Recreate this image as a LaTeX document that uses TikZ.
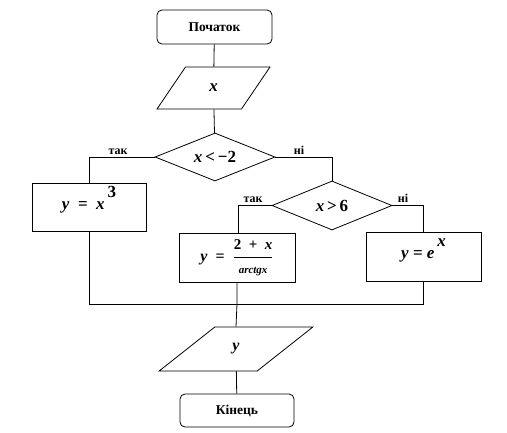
\documentclass[tikz,border=0pt]{standalone}
\usepackage{fontspec}
\setmainfont{Liberation Serif}
\usetikzlibrary{shapes.geometric}
\tikzset{
  base/.style={draw=black, line width=0.8pt, inner sep=0pt, font=\bfseries},
  term/.style={base, rectangle, rounded corners=5pt},
  procbox/.style={base, rectangle},
  io/.style={base, trapezium, trapezium stretches=true},
  decide/.style={base, diamond, aspect=2.5},
  conn/.style={draw=black, line width=0.8pt},
  lbl/.style={font=\bfseries\fontsize{12}{12}\selectfont, inner sep=0pt, anchor=south}
}
\newcommand{\upsup}[1]{\raisebox{1.5ex}[0pt][0pt]{#1}}
\begin{document}
\begin{tikzpicture}[x=1pt,y=-1pt]
\useasboundingbox (0,0) rectangle (507,432);
\node[term, minimum width=115pt, minimum height=34pt, font=\bfseries\fontsize{13.5}{13.5}\selectfont] (start) at (214.5,27) {Початок};
\node[io, trapezium left angle=61, trapezium right angle=119, minimum width=113pt, minimum height=42pt, font=\bfseries\fontsize{17}{17}\selectfont] (in) at (213.5,88) {\textit{x}};
\node[decide, minimum width=120pt, minimum height=48pt, font=\bfseries\fontsize{17}{17}\selectfont] (d1) at (215,157) {\textit{x}\,<\,−2};
\node[procbox, minimum width=114pt, minimum height=48pt, font=\bfseries\fontsize{17}{17}\selectfont] (b1) at (89,207) {\textit{y}\enspace=\enspace\textit{x}\,\upsup{3}};
\node[decide, minimum width=120pt, minimum height=49pt, font=\bfseries\fontsize{17}{17}\selectfont] (d2) at (332,205.5) {\textit{x}\,>\,6};
\node[procbox, minimum width=116pt, minimum height=49pt, font=\bfseries\fontsize{16}{16}\selectfont] (b2) at (237,257.5) {\textit{y}\enspace=\enspace$\displaystyle\frac{\mbox{\bfseries\fontsize{15}{15}\selectfont 2\enspace+\enspace\textit{x}}}{\mbox{\bfseries\fontsize{11}{11}\selectfont\textit{arctgx}}}$};
\node[procbox, minimum width=115pt, minimum height=49pt, font=\bfseries\fontsize{17}{17}\selectfont] (b3) at (423.5,256.5) {\textit{y} = \textit{e}\,\upsup{\textit{x}}};
\node[io, trapezium left angle=49, trapezium right angle=131, minimum width=154pt, minimum height=44pt, font=\bfseries\fontsize{16}{16}\selectfont] (out) at (236,349) {\textit{y}};
\node[term, minimum width=114pt, minimum height=33pt, font=\bfseries\fontsize{13.5}{13.5}\selectfont] (end) at (237,410.5) {Кінець};

\coordinate (c1) at (89,157);
\coordinate (c2) at (332,157);
\coordinate (c3) at (238,205.5);
\coordinate (c4) at (423.5,205.5);
\coordinate (m1) at (89,304);
\coordinate (m2) at (237,304);
\coordinate (m3) at (423.5,304);

\draw[conn] (start) -- (in);
\draw[conn] (in) -- (d1);
\draw[conn] (d1.west) -- (c1) -- (c1 |- b1.north);
\draw[conn] (d1.east) -- (c2) -- (d2.north);
\draw[conn] (d2.west) -- (c3) -- (c3 |- b2.north);
\draw[conn] (d2.east) -- (c4) -- (c4 |- b3.north);
\draw[conn] (c1 |- b1.south) -- (m1) -- (m3) -- (c4 |- b3.south);
\draw[conn] (b2.south) -- (m2) -- (out.north);
\draw[conn] (out) -- (end);

\node[lbl] (l1) at (118,155) {так};
\node[lbl] (l2) at (299,155) {ні};
\node[lbl] (l3) at (253,203) {так};
\node[lbl] (l4) at (403,203) {ні};
\end{tikzpicture}
\end{document}
